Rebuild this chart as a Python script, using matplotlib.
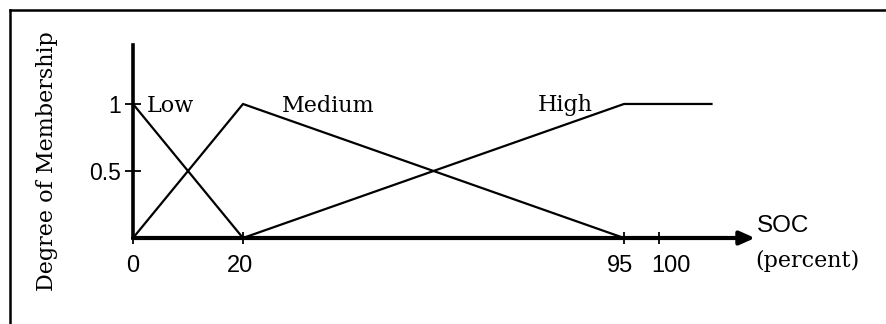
import numpy as np
import matplotlib
matplotlib.use("Agg")
import matplotlib.pyplot as plt
from matplotlib.lines import Line2D
from matplotlib.transforms import offset_copy

# ---- data ----
low_x = [0, 20]
low_y = [1, 0]
medium_x = [0, 20, 95]
medium_y = [0, 1, 0]
high_x = [20, 95, 107.5]
high_y = [0, 1, 1]
xtick_vals = [0, 20, 95, 100]
xtick_labels = ["0", "20", "95", "100"]
ytick_vals = [0.5, 1]
ytick_labels = ["0.5", "1"]
set_names = ["Low", "Medium", "High"]
set_label_pos = [(2.5, 0.94), (27.7, 0.94), (78.1, 0.95)]

# non-uniform axis (as drawn in the original figure)
_bp_data = [0, 20, 95, 100, 130]
_bp_pos = [0, 110, 491, 526, 736]

def fwd(x):
    return np.interp(x, _bp_data, _bp_pos)

def inv(p):
    return np.interp(p, _bp_pos, _bp_data)

W, H = 886, 324
fig = plt.figure(figsize=(W / 100, H / 100), dpi=100)
ax = fig.add_axes([133 / W, (H - 238) / H, 622 / W, 193 / H])
ax.set_xscale("function", functions=(fwd, inv))
ax.set_xlim(0, inv(622))
ax.set_ylim(0, 1.44)

lw = 1.6
ax.plot(low_x, low_y, color="black", lw=lw, clip_on=False)
ax.plot(medium_x, medium_y, color="black", lw=lw, clip_on=False)
ax.plot(high_x, high_y, color="black", lw=lw, clip_on=False)

serif = ["DejaVu Serif"]
for name, (px, py) in zip(set_names, set_label_pos):
    ax.text(px, py, name, family=serif, fontsize=16, ha="left", va="baseline")

# spines
for s in ["top", "right", "bottom"]:
    ax.spines[s].set_visible(False)
ax.spines["left"].set_linewidth(2.6)
ax.spines["left"].set_zorder(3)

# x axis as arrow
ax.annotate("", xy=(1, 0), xycoords="axes fraction", xytext=(0, 0),
            textcoords="axes fraction",
            arrowprops=dict(arrowstyle="-|>,head_length=0.9,head_width=0.4",
                            lw=3, color="black", shrinkA=0, shrinkB=0),
            annotation_clip=False)

sans = ["Liberation Sans", "DejaVu Sans"]
ax.set_xticks(xtick_vals)
ax.set_xticklabels([])
ax.xaxis.set_minor_locator(matplotlib.ticker.NullLocator())
ax.tick_params(axis="x", direction="inout", length=9, width=1.3)
# x tick labels placed under their ticks (with the small shifts seen in the original)
label_shift_px = [0, -3, -4, 12]
xtrans = ax.get_xaxis_transform()
for v, lab, dx in zip(xtick_vals, xtick_labels, label_shift_px):
    ax.text(v, 0, lab, family=sans, fontsize=17,
            transform=offset_copy(xtrans, fig=fig, x=dx, y=-34, units="dots"),
            ha="center", va="baseline", clip_on=False)

ax.set_yticks(ytick_vals)
ax.set_yticklabels(ytick_labels, family=sans, fontsize=16.5)
ax.tick_params(axis="y", direction="inout", length=11, width=1.3, pad=3)

fig.text(757 / W, (H - 232) / H, "SOC", family=sans,
         fontsize=17.5, ha="left", va="baseline")
fig.text(755 / W, (H - 267) / H, "(percent)", family=serif, fontsize=16,
         ha="left", va="baseline")
fig.text(47 / W, (H - 161) / H, "Degree of Membership", family=serif,
         fontsize=16, rotation=90, ha="center", va="center")

# frame lines (left and top)
fig.add_artist(Line2D([10 / W, 10 / W], [0, 1 - 9.5 / H], color="black", lw=1.8))
fig.add_artist(Line2D([10 / W, 1], [1 - 9.5 / H, 1 - 9.5 / H], color="black", lw=1.8))

fig.savefig("out.png", dpi=100)
